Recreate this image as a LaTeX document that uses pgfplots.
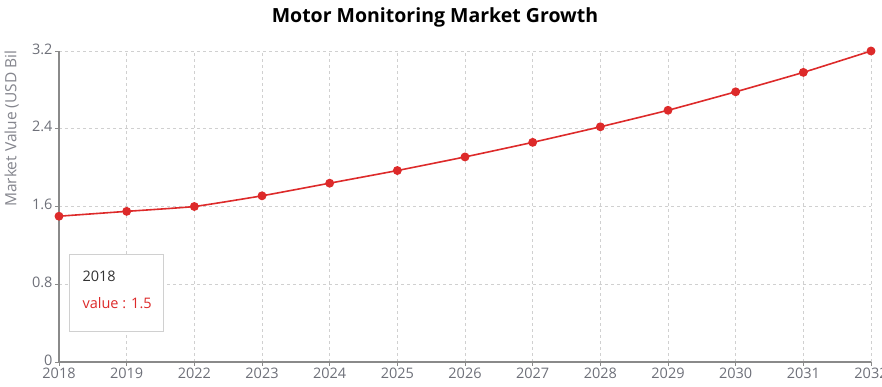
\documentclass[border=0pt]{standalone}
\usepackage{pgfplots}
\pgfplotsset{compat=1.18}
\usepackage{fontspec}
\setmainfont{Open Sans}
\usetikzlibrary{calc}
\definecolor{axgrey}{HTML}{8A8A8A}
\definecolor{ticktxt}{HTML}{6E7079}
\definecolor{gridc}{HTML}{D0D0D0}
\definecolor{linered}{HTML}{DD2A2A}
\begin{document}
\begin{tikzpicture}
\begin{axis}[
  scale only axis,
  width=812pt, height=311pt,
  xmin=0, xmax=12, ymin=0, ymax=3.2,
  xtick={0,...,12},
  xticklabels={2018,2019,2022,2023,2024,2025,2026,2027,2028,2029,2030,2031,2032},
  ytick={0,0.8,1.6,2.4,3.2},
  yticklabels={0,0.8,1.6,2.4,3.2},
  axis lines*=left,
  axis line style={axgrey, line width=1.5pt},
  tick style={axgrey, line width=0.8pt},
  tick align=outside,
  major tick length=4pt,
  grid=major,
  grid style={gridc, dashed, line width=0.7pt},
  tick label style={font=\fontsize{14.5}{16}\selectfont, text=ticktxt},
  xticklabel style={yshift=2pt},
  yticklabel style={xshift=1pt, yshift=2pt},
  clip=false,
]
\addplot[linered, line width=1.6pt, smooth, tension=0.25, mark=*, mark size=3.6pt, mark options={fill=linered, draw=linered}]
coordinates {
(0,1.50) (1,1.55) (2,1.60) (3,1.71) (4,1.84) (5,1.97) (6,2.11) (7,2.26) (8,2.42) (9,2.59) (10,2.78) (11,2.98) (12,3.20)
};
\end{axis}
\node[font=\fontsize{19.5}{22}\selectfont\bfseries, text=black] at ($(current axis.south west)+(376pt,345pt)$) {Motor Monitoring Market Growth};
\node[rotate=90, anchor=south west, inner sep=0pt, font=\fontsize{15.5}{17}\selectfont, text=ticktxt!85] at ($(current axis.south west)+(-40pt,155pt)$) {Market Value (USD Bil};
\node[draw=gridc, fill=white, line width=0.8pt, anchor=north west, minimum width=94pt, minimum height=77pt, inner sep=0pt] (tt) at ($(current axis.south west)+(10pt,108pt)$) {};
\node[anchor=west, font=\fontsize{14.5}{16}\selectfont, text=black!80] at ($(tt.north west)+(10pt,-22pt)$) {2018};
\node[anchor=west, font=\fontsize{14.5}{16}\selectfont, text=linered] at ($(tt.north west)+(10pt,-49pt)$) {value : 1.5};
\pgfresetboundingbox
\path ($(current axis.south west)+(-59pt,-25pt)$) rectangle ($(current axis.south west)+(823pt,362pt)$);
\end{tikzpicture}
\end{document}
